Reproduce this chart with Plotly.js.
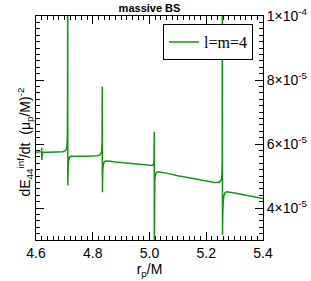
<!DOCTYPE html>
<html>
<head>
<meta charset="utf-8">
<script src="https://cdn.plot.ly/plotly-3.0.1.min.js"></script>
<style>
html,body{margin:0;padding:0;background:#fff;}
#chart{width:311px;height:281px;}
</style>
</head>
<body>
<div id="chart"></div>
<script>
// orbital radius r_p/M
var rp = [
  4.600, 4.610, 4.6195, 4.6202, 4.6206, 4.6212, 4.6225, 4.640, 4.660, 4.680,
  4.695, 4.703, 4.707, 4.709, 4.7105, 4.7113, 4.7118, 4.7121, 4.7125, 4.7135,
  4.7155, 4.718, 4.722, 4.740, 4.760, 4.780, 4.800, 4.815, 4.824, 4.829,
  4.8315, 4.8328, 4.8336, 4.8340, 4.8344, 4.8355, 4.8375, 4.841, 4.846, 4.855,
  4.880, 4.920, 4.960, 4.990, 5.005, 5.011, 5.0145, 5.0160, 5.0167, 5.0171,
  5.0176, 5.0186, 5.0205, 5.024, 5.030, 5.060, 5.100, 5.150, 5.200, 5.230,
  5.243, 5.250, 5.2535, 5.2553, 5.2563, 5.2568, 5.2572, 5.2580, 5.2595, 5.2620,
  5.2660, 5.272, 5.300, 5.340, 5.370, 5.400
];
// dE44^inf/dt (mu_p/M)^-2
var dE44 = [
  5.74e-5, 5.74e-5, 5.76e-5, 5.88e-5, 5.50e-5, 5.68e-5, 5.74e-5, 5.74e-5, 5.74e-5, 5.75e-5,
  5.76e-5, 5.79e-5, 5.84e-5, 5.92e-5, 6.20e-5, 7.50e-5, 1.50e-4, 4.70e-5, 4.95e-5, 5.28e-5,
  5.50e-5, 5.58e-5, 5.62e-5, 5.63e-5, 5.62e-5, 5.62e-5, 5.62e-5, 5.63e-5, 5.65e-5, 5.70e-5,
  5.80e-5, 6.05e-5, 7.79e-5, 4.49e-5, 4.85e-5, 5.20e-5, 5.38e-5, 5.45e-5, 5.47e-5, 5.47e-5,
  5.44e-5, 5.40e-5, 5.36e-5, 5.33e-5, 5.32e-5, 5.33e-5, 5.37e-5, 5.50e-5, 6.38e-5, 2.50e-5,
  4.30e-5, 4.80e-5, 5.02e-5, 5.11e-5, 5.13e-5, 5.09e-5, 5.01e-5, 4.93e-5, 4.84e-5, 4.80e-5,
  4.80e-5, 4.84e-5, 4.90e-5, 5.05e-5, 5.50e-5, 1.50e-4, 3.16e-5, 3.70e-5, 4.15e-5, 4.38e-5,
  4.48e-5, 4.51e-5, 4.47e-5, 4.40e-5, 4.35e-5, 4.30e-5
];
var seriesName = "l=m=4";
var xTickVals = [4.6, 4.8, 5.0, 5.2, 5.4];
var xTickText = ["4.6", "4.8", "5.0", "5.2", "5.4"];
var yTickVals = [4e-5, 6e-5, 8e-5, 1e-4];
var yTickText = ["4×10<sup>-5</sup>", "6×10<sup>-5</sup>", "8×10<sup>-5</sup>", "1×10<sup>-4</sup>"];

var trace = {
  x: rp, y: dE44, type: "scatter", mode: "lines", name: seriesName,
  line: {color: "rgb(20,150,20)", width: 1.5},
  cliponaxis: true
};

var sans = "Liberation Sans, Arial, sans-serif";
var layout = {
  width: 311, height: 281,
  margin: {l: 36, r: 48, t: 16, b: 41},
  paper_bgcolor: "#fff", plot_bgcolor: "#fff",
  showlegend: true,
  title: {text: "<b>massive BS</b>", font: {family: sans, size: 11, color: "#000"},
          x: 0.4807, xanchor: "center", y: 0.985, yanchor: "top"},
  xaxis: {
    range: [4.6, 5.4], tickmode: "array", tickvals: xTickVals, ticktext: xTickText,
    ticks: "inside", ticklen: 8, tickwidth: 1, tickcolor: "#000",
    minor: {dtick: 0.02, ticks: "inside", ticklen: 4, tickcolor: "#000", showgrid: false},
    mirror: "allticks", showline: true, linecolor: "#000", linewidth: 1,
    showgrid: false, zeroline: false,
    tickfont: {family: sans, size: 14, color: "#000"},
    title: {text: "r<sub>p</sub>/M", font: {family: sans, size: 14, color: "#000"}, standoff: 2}
  },
  yaxis: {
    range: [3e-5, 1e-4], side: "right", tickmode: "array", tickvals: yTickVals, ticktext: yTickText,
    ticks: "inside", ticklen: 8, tickwidth: 1, tickcolor: "#000",
    minor: {dtick: 2e-6, tick0: 0, ticks: "inside", ticklen: 4, tickcolor: "#000", showgrid: false},
    mirror: "allticks", showline: true, linecolor: "#000", linewidth: 1,
    showgrid: false, zeroline: false,
    tickfont: {family: sans, size: 14, color: "#000"}
  },
  legend: {
    x: 0.956, y: 0.964, xanchor: "right", yanchor: "top",
    bgcolor: "#fff", bordercolor: "#000", borderwidth: 1,
    font: {family: "Liberation Serif, Times New Roman, serif", size: 16, color: "#000"},
    itemwidth: 30
  },
  annotations: [{
    text: "dE<sub>44</sub><sup>inf</sup>/dt  (μ<sub>p</sub>/M)<sup>-2</sup>",
    xref: "paper", yref: "paper", x: 0, y: 0.4375, xanchor: "center", yanchor: "middle",
    xshift: -10.5, textangle: -90, showarrow: false,
    font: {family: sans, size: 14, color: "#000"}
  }]
};

Plotly.newPlot("chart", [trace], layout, {displayModeBar: false, staticPlot: true});
</script>
</body>
</html>
